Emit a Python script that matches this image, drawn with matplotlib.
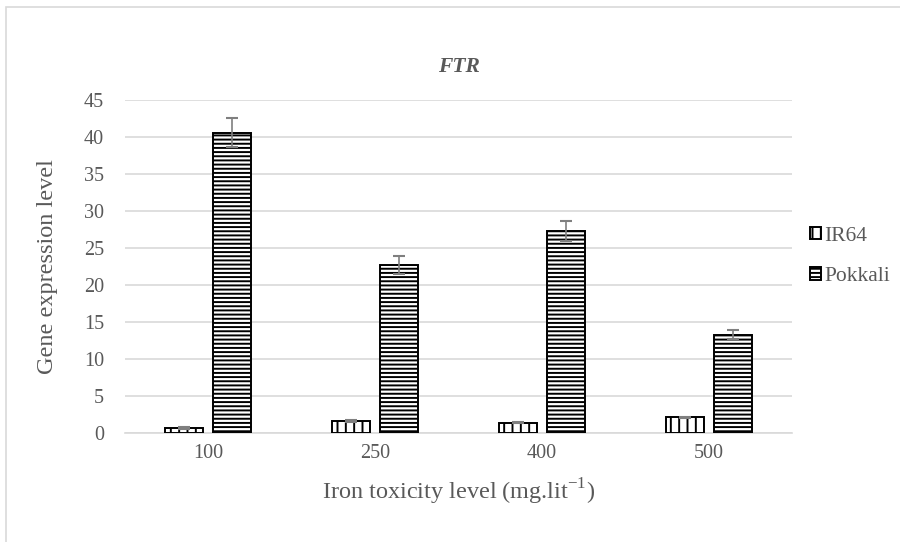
import matplotlib
matplotlib.use("Agg")
import matplotlib.pyplot as plt
from matplotlib.patches import Rectangle
import numpy as np

# Expression data
categories = ["100", "250", "400", "500"]
ir64 = [0.7, 1.6, 1.4, 2.1]
ir64_err = [0.1, 0.15, 0.1, 0.1]
pokkali = [40.6, 22.7, 27.3, 13.3]
pokkali_err = [2.0, 1.2, 1.3, 0.6]
yticks = [0, 5, 10, 15, 20, 25, 30, 35, 40, 45]

plt.rcParams['font.family'] = ['Liberation Serif', 'DejaVu Serif']
plt.rcParams['hatch.linewidth'] = 1.4
text_color = "#595959"
grid_color = "#d9d9d9"

fig = plt.figure(figsize=(9, 5.42), dpi=100)
# outer chart border
fig.patches.append(Rectangle((6 / 900, -0.05), 1.2, 1 - 7 / 542 + 0.05,
                             transform=fig.transFigure, fill=False,
                             edgecolor="#d9d9d9", linewidth=1.2))

ax = fig.add_axes([125 / 900, 1 - 433 / 542, 667 / 900, 333 / 542])

x = np.arange(len(categories))
w = 0.228
off = 0.144
ax.bar(x - off, ir64, w, color="white", edgecolor="black", linewidth=1.4,
       hatch="||", label="IR64", zorder=3)
ax.bar(x + off, pokkali, w, color="white", edgecolor="black", linewidth=1.4,
       hatch="----", label="Pokkali", zorder=3)
ax.errorbar(x - off, ir64, yerr=ir64_err, fmt="none", ecolor="#7f7f7f",
            elinewidth=1.2, capsize=4.5, capthick=1.5, zorder=4)
ax.errorbar(x + off, pokkali, yerr=pokkali_err, fmt="none", ecolor="#7f7f7f",
            elinewidth=1.2, capsize=4.5, capthick=1.5, zorder=4)

ax.set_xlim(-0.5, len(categories) - 0.5)
ax.set_ylim(0, 45)
ax.set_yticks(yticks)
ax.set_xticks(x)
ax.set_xticklabels(categories)
ax.yaxis.grid(True, color=grid_color, linewidth=1.2, zorder=0)
ax.set_axisbelow(True)
for s in ["top", "right", "left"]:
    ax.spines[s].set_visible(False)
ax.spines["bottom"].set_color(grid_color)
ax.spines["bottom"].set_linewidth(1.2)
ax.tick_params(axis="both", length=0, labelsize=14.5, labelcolor=text_color)
ax.tick_params(axis="y", pad=15)
ax.tick_params(axis="x", pad=8)

ax.set_title("FTR", fontsize=15.5, fontweight="bold", style="italic",
             color=text_color, pad=20)
ax.set_ylabel("Gene expression level", fontsize=17.5, color=text_color, labelpad=19)
ax.set_xlabel("Iron toxicity level (mg.lit$^{\\mathregular{-1}}$)", fontsize=17.5,
              color=text_color, labelpad=10)

leg = ax.legend(loc="center left", bbox_to_anchor=(0.998, 0.53), frameon=False,
                fontsize=15.5, labelcolor=text_color, handlelength=0.5,
                handleheight=0.5, handletextpad=0.15, labelspacing=1.0)

fig.savefig("out.png", dpi=100)
